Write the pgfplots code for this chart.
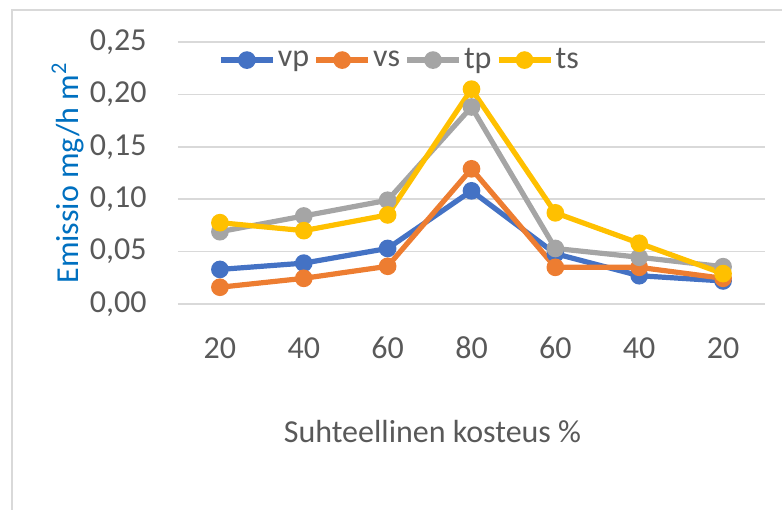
\documentclass[border=0pt]{standalone}
\usepackage{pgfplots}
\pgfplotsset{compat=1.18}
\usepackage{fontspec}
\setmainfont{Carlito}
\definecolor{cBlue}{HTML}{4472C4}
\definecolor{cOrange}{HTML}{ED7D31}
\definecolor{cGray}{HTML}{A5A5A5}
\definecolor{cGold}{HTML}{FFC000}
\definecolor{cGrid}{HTML}{D9D9D9}
\definecolor{cText}{HTML}{595959}
\definecolor{cLabel}{HTML}{0070C0}
\begin{document}
\begin{tikzpicture}
\useasboundingbox (-89pt,-102.5pt) rectangle (302pt,152pt);
\draw[cGrid, line width=0.8pt] (-83pt,-130pt) -- (-83pt,147pt) -- (330pt,147pt);
\begin{axis}[
  at={(0pt,0pt)}, anchor=south west,
  scale only axis, width=293.5pt, height=131pt,
  xmin=-0.5, xmax=6.5, ymin=0, ymax=0.25,
  xtick={0,...,6}, xticklabels={20,40,60,80,60,40,20},
  ytick={0,0.05,0.10,0.15,0.20,0.25},
  axis line style={draw=none},
  major tick length=0pt,
  ymajorgrids, grid style={cGrid, line width=0.8pt},
  font=\fontsize{16pt}{19pt}\selectfont,
  tick label style={text=cText, font=\fontsize{16pt}{19pt}\selectfont},
  /pgf/number format/assume math mode=true,
  yticklabel={\pgfmathprintnumber[fixed, fixed zerofill, precision=2, use comma]{\tick}},
  yticklabel style={anchor=east, inner sep=0pt, xshift=-15.5pt},
  xticklabel style={anchor=center, inner sep=0pt, yshift=-22pt},
  ylabel={Emissio mg/h m\textsuperscript{2}},
  ylabel style={at={(axis description cs:-0.1874,0.5)}, anchor=center, text=cLabel, font=\fontsize{16pt}{19pt}\selectfont},
  xlabel={Suhteellinen kosteus \%},
  xlabel style={at={(axis description cs:0.4336,-0.4885)}, anchor=center, text=cText, font=\fontsize{16pt}{19pt}\selectfont},
  every axis plot/.append style={line width=2.6pt, mark=*, mark size=3.1pt, mark options={solid}},
  legend columns=4,
  legend style={at={(axis description cs:0.068,0.931)}, anchor=west, draw=none, fill=none,
    inner sep=0pt, font=\fontsize{16pt}{19pt}\selectfont, text=cText,
    nodes={inner sep=1.2pt},
    /tikz/every even column/.append style={column sep=1pt}},
  legend image code/.code={\draw[mark repeat=2,mark phase=2] plot coordinates {(0pt,0pt)(13pt,0pt)(26pt,0pt)};},
  clip=false,
]
\addplot[color=cBlue] coordinates {(0,0.033) (1,0.039) (2,0.053) (3,0.108) (4,0.048) (5,0.027) (6,0.022)};
\addlegendentry{vp}
\addplot[color=cOrange] coordinates {(0,0.016) (1,0.0245) (2,0.036) (3,0.129) (4,0.035) (5,0.035) (6,0.0245)};
\addlegendentry{vs}
\addplot[color=cGray] coordinates {(0,0.069) (1,0.084) (2,0.099) (3,0.188) (4,0.053) (5,0.0446) (6,0.0356)};
\addlegendentry{tp}
\addplot[color=cGold] coordinates {(0,0.0776) (1,0.070) (2,0.085) (3,0.205) (4,0.087) (5,0.058) (6,0.029)};
\addlegendentry{ts}
\end{axis}
\end{tikzpicture}
\end{document}
